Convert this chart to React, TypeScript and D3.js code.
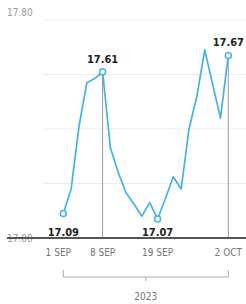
import React from "react";
import * as d3 from "d3";

const days = [
  "2023-09-01", "2023-09-04", "2023-09-05", "2023-09-06", "2023-09-07", "2023-09-08",
  "2023-09-11", "2023-09-12", "2023-09-13", "2023-09-14", "2023-09-15",
  "2023-09-18", "2023-09-19", "2023-09-20", "2023-09-21", "2023-09-22",
  "2023-09-25", "2023-09-26", "2023-09-27", "2023-09-28", "2023-09-29", "2023-10-02",
];
const values = [
  17.09, 17.18, 17.41, 17.57, 17.585, 17.61, 17.33, 17.24, 17.165, 17.125, 17.08,
  17.13, 17.07, 17.145, 17.225, 17.18, 17.4, 17.52, 17.69, 17.565, 17.44, 17.67,
];
const tickDays = ["2023-09-01", "2023-09-08", "2023-09-19", "2023-10-02"];
const tickLabels = ["1 SEP", "8 SEP", "19 SEP", "2 OCT"];
const yTicks = [17.0, 17.2, 17.4, 17.6, 17.8];
const yLabelTicks = [17.0, 17.8];
const markedDays = ["2023-09-01", "2023-09-08", "2023-09-19", "2023-10-02"];
const markPlacement = ["below", "above", "below", "above"];
const dropLineDays = ["2023-09-08", "2023-10-02"];
const yearLabel = "2023";

const W = 246;
const H = 304;
const LINE = "#45b3e3";
const FONT = "'Liberation Sans Narrow', 'DejaVu Sans Condensed', sans-serif";

export default function App() {
  const x = d3.scaleLinear().domain([0, days.length - 1]).range([63.3, 228.3]);
  const y = d3.scaleLinear().domain([17.0, 17.8]).range([238, 20]);
  const xi = (d: string) => x(days.indexOf(d));
  const line = d3
    .line<number>()
    .x((_, i) => x(i))
    .y((v) => y(v))
    .curve(d3.curveLinear);

  const bx0 = xi(tickDays[0]);
  const bx1 = xi(tickDays[tickDays.length - 1]);
  const bmid = (bx0 + bx1) / 2;

  return (
    <svg
      width={W}
      height={H}
      style={{ position: "absolute", left: 0, top: 0, background: "#fff" }}
      fontFamily={FONT}
    >
      {yTicks.map((t) => (
        <line key={t} x1={43} x2={W} y1={y(t)} y2={y(t)} stroke="#ececec" strokeWidth={1} />
      ))}
      {yLabelTicks.map((t, i) => (
        <text
          key={t}
          x={7}
          y={i === 0 ? y(t) + 3.5 : y(t) - 4}
          fontSize={10}
          fill="#9a9a9a"
        >
          {t.toFixed(2)}
        </text>
      ))}
      {dropLineDays.map((d) => (
        <line
          key={d}
          x1={xi(d)}
          x2={xi(d)}
          y1={y(values[days.indexOf(d)])}
          y2={y(17.0)}
          stroke="#9c9c9c"
          strokeWidth={1}
        />
      ))}
      <line x1={7} x2={W} y1={y(17.0)} y2={y(17.0)} stroke="#555" strokeWidth={2} />
      <path d={line(values) || ""} fill="none" stroke={LINE} strokeWidth={1.7} strokeLinejoin="round" />
      {markedDays.map((d, i) => {
        const v = values[days.indexOf(d)];
        const cx = xi(d);
        const cy = y(v);
        return (
          <g key={d}>
            <circle cx={cx} cy={cy} r={3} fill="#fff" stroke={LINE} strokeWidth={1.5} />
            <text
              x={cx}
              y={markPlacement[i] === "above" ? cy - 9 : y(17.0) - 2}
              textAnchor="middle"
              fontSize={11}
              fontWeight="bold"
              fill="#222"
            >
              {v.toFixed(2)}
            </text>
          </g>
        );
      })}
      {tickDays.map((d, i) => (
        <text
          key={d}
          x={xi(d) - (i === 0 ? 5 : 0)}
          y={256}
          textAnchor="middle"
          fontSize={10}
          fill="#777"
        >
          {tickLabels[i]}
        </text>
      ))}
      <path
        d={`M${bx0},270 V277 H${bx1} V270 M${bmid},277 V281`}
        fill="none"
        stroke="#aaa"
        strokeWidth={1}
      />
      <text x={bmid} y={300} textAnchor="middle" fontSize={10} fill="#777">
        {yearLabel}
      </text>
    </svg>
  );
}
